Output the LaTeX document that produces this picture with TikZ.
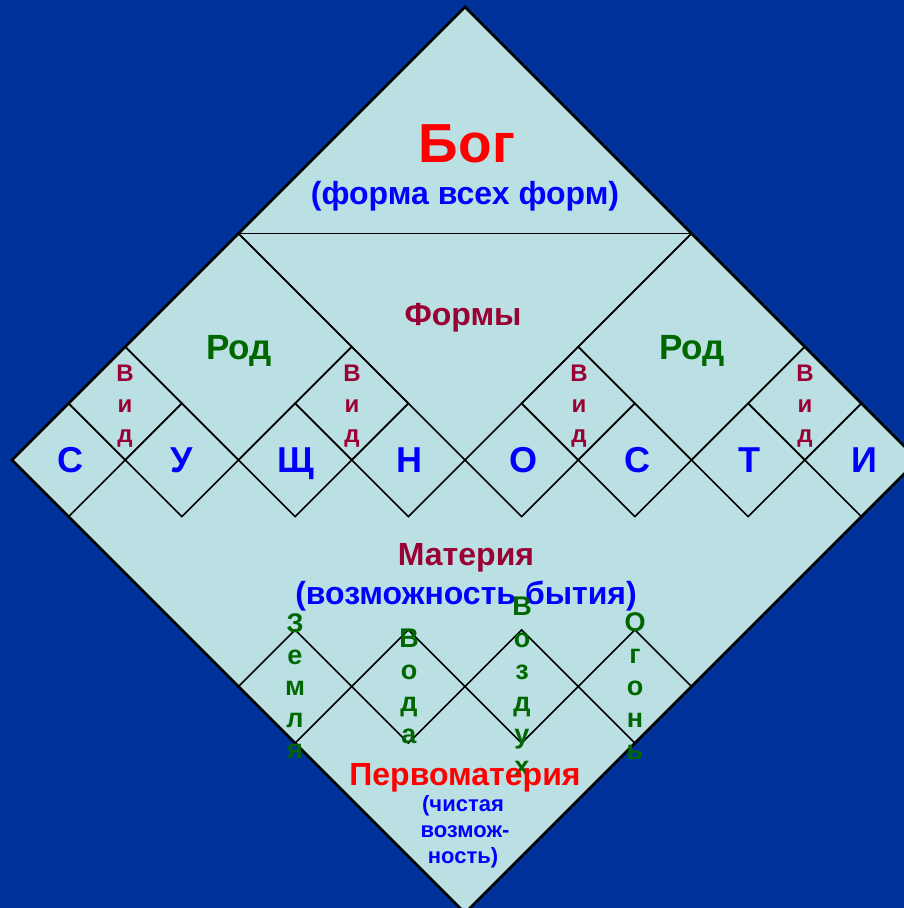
\documentclass[tikz,border=0pt]{standalone}
\usepackage{fontspec}
\setmainfont{Liberation Sans}
\definecolor{bg}{HTML}{003399}
\definecolor{fillc}{HTML}{BBE0E3}
\definecolor{dred}{HTML}{990033}
\definecolor{dgreen}{HTML}{006600}
\definecolor{tblue}{HTML}{0000FF}
\definecolor{tred}{HTML}{FF0000}
\newcommand\gcell[2]{(#1,#2) -- ({#1+1},#2) -- ({#1+1},{#2+1}) -- (#1,{#2+1}) -- cycle}
\tikzset{
  gridline/.style={draw=black, line width=1.5pt},
  outline/.style={draw=black, line width=2.5pt, line join=miter},
  txt/.style={inner sep=0pt, anchor=base, font=\bfseries\fontsize{32}{32}\selectfont},
  rowletter/.style={txt, text=tblue, font=\bfseries\fontsize{36}{36}\selectfont},
  vidletter/.style={txt, text=dred, font=\bfseries\fontsize{24}{24}\selectfont},
  elemletter/.style={txt, text=dgreen, font=\bfseries\fontsize{27}{27}\selectfont},
  smalltxt/.style={txt, text=tblue, font=\bfseries\fontsize{22}{22}\selectfont},
}
\begin{document}
\begin{tikzpicture}[x=1pt,y=-1pt]
\fill[bg] (0,0) rectangle (904,908);
\useasboundingbox (0,0) rectangle (904,908);
\begin{scope}
\clip (0,0) rectangle (904,908);
\begin{scope}[shift={(465,7)}, x={(56.625pt,-56.625pt)}, y={(-56.625pt,-56.625pt)}]
  \fill[fillc] (0,0) -- (8,0) -- (8,8) -- (0,8) -- cycle;
  % top separator (horizontal)
  \draw[gridline] (0,4) -- (4,0);
  % Forms boundaries
  \draw[gridline] (0,4) -- (3,4);
  \draw[gridline] (4,0) -- (4,3);
  % Genus squares
  \draw[gridline] (0,4) -- (2,4) -- (2,6) -- (0,6) -- cycle;
  \draw[gridline] (4,0) -- (6,0) -- (6,2) -- (4,2) -- cycle;
  % species cells
  \foreach \a/\b in {0/6,2/4,4/2,6/0} { \draw[gridline] \gcell{\a}{\b}; }
  % row of letters
  \foreach \i in {0,...,7} { \draw[gridline] \gcell{\i}{7-\i}; }
  % element cells
  \foreach \a/\b in {4/7,5/6,6/5,7/4} { \draw[gridline] \gcell{\a}{\b}; }
  \draw[outline] (0,0) -- (8,0) -- (8,8) -- (0,8) -- cycle;
\end{scope}
\end{scope}

% top
\node[txt, text=tred, font=\bfseries\fontsize{55}{55}\selectfont] (bog) at (467,162) {Бог};
\node[txt, text=tblue] (bogsub) at (465,204) {(форма всех форм)};
\node[txt, text=dred] (formy) at (463,325) {Формы};
\node[txt, text=dgreen, font=\bfseries\fontsize{35}{35}\selectfont] (rod1) at (239,359) {Род};
\node[txt, text=dgreen, font=\bfseries\fontsize{35}{35}\selectfont] (rod2) at (692,359) {Род};

% species
\foreach \x [count=\k] in {125,352,579,805} {
  \node[vidletter] (vid\k a) at (\x,381) {В};
  \node[vidletter] (vid\k b) at (\x,412) {и};
  \node[vidletter] (vid\k c) at (\x,442) {д};
}

% row
\foreach \x/\l [count=\k] in {70/С,182/У,296/Щ,409/Н,523/О,637/С,749/Т,864/И} {
  \node[rowletter] (row\k) at (\x,472) {\l};
}

% matter
\node[txt, text=dred] (mat) at (466,565) {Материя};
\node[txt, text=tblue] (matsub) at (466,604) {(возможность бытия)};

% elements
\foreach \l/\y [count=\k] in {З/632,е/664,м/695,л/727,я/758} {
  \node[elemletter] (zem\k) at (295,\y) {\l};
}
\foreach \l/\y [count=\k] in {В/647,о/679,д/711,а/743} {
  \node[elemletter] (vod\k) at (409,\y) {\l};
}
\foreach \l/\y [count=\k] in {В/615,о/647,з/679,д/711,у/743,х/775} {
  \node[elemletter] (voz\k) at (522,\y) {\l};
}
\foreach \l/\y [count=\k] in {О/631,г/663,о/695,н/727,ь/759} {
  \node[elemletter] (ogo\k) at (635,\y) {\l};
}

% prime matter
\node[txt, text=tred] (perv) at (465,785) {Первоматерия};
\node[smalltxt] (perv1) at (463,811) {(чистая};
\node[smalltxt] (perv2) at (465,837) {возмож-};
\node[smalltxt] (perv3) at (463,863) {ность)};
\end{tikzpicture}
\end{document}
